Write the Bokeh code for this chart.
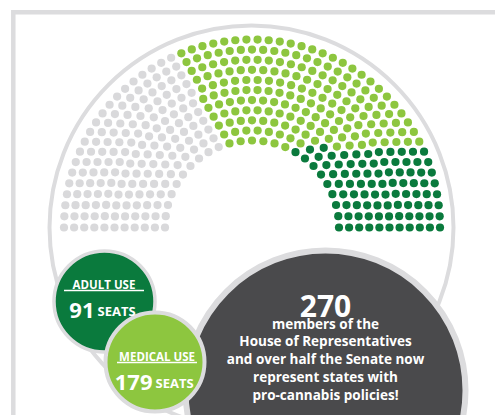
import numpy as np
from bokeh.plotting import figure
from bokeh.models import Range1d
from bokeh.core.properties import value
from bokeh.embed import file_html
from bokeh.resources import INLINE

# ---- data ----
seat_groups = ["Other states", "Medical use", "Adult use"]
seat_counts = [165, 179, 91]
seat_colors = ["#d9d9db", "#8dc63f", "#0a7a3d"]
badge_titles = ["ADULT USE", "MEDICAL USE"]
badge_seats = [91, 179]
message_lines = ["members of the", "House of Representatives",
                 "and over half the Senate now", "represent states with",
                 "pro-cannabis policies!"]

FONT = value("Open Sans")
RING = "#dcdcde"

p = figure(width=495, height=415, x_range=Range1d(0, 495), y_range=Range1d(415, 0),
           output_backend="svg", toolbar_location=None, min_border=0,
           x_axis_type=None, y_axis_type=None)
p.grid.visible = False
p.outline_line_color = None
p.background_fill_color = "white"

# frame
p.line(x=[12.8, 12.8, 520], y=[430, 11.7, 11.7], line_width=4.5, line_color=RING,
       line_join="miter")

# parliament outline ring
cx, cy = 251.5, 227.0
p.circle(x=[cx - 0.5], y=[cy], radius=202, fill_color=None, line_color=RING, line_width=4)

# ---- parliament layout ----
total = sum(seat_counts)
n_rows = 11
r_in, r_out = 87.0, 188.0
radii = np.linspace(r_in, r_out, n_rows)
raw = total * radii / radii.sum()
counts = np.floor(raw).astype(int)
rem = total - counts.sum()
for i in np.argsort(-(raw - counts))[:rem]:
    counts[i] += 1

seats = []  # (row, j, angle, x, y)
for k, (r, n) in enumerate(zip(radii, counts)):
    for j in range(n):
        a = np.pi * j / (n - 1)
        seats.append((k, j, a, cx + r * np.cos(a), cy - r * np.sin(a)))

n_other, n_med, n_adult = seat_counts
order_adult = sorted(range(len(seats)), key=lambda i: (seats[i][1], seats[i][0]))
adult_idx = set(order_adult[:n_adult])
rest = sorted([i for i in range(len(seats)) if i not in adult_idx], key=lambda i: seats[i][2])
med_idx = set(rest[:n_med])

colors = []
for i in range(len(seats)):
    if i in adult_idx:
        colors.append(seat_colors[2])
    elif i in med_idx:
        colors.append(seat_colors[1])
    else:
        colors.append(seat_colors[0])

p.scatter(x=[s[3] for s in seats], y=[s[4] for s in seats], size=8.2,
          marker="circle", fill_color=colors, line_color=None)

# ---- big dark circle ----
p.circle(x=[325], y=[390], radius=140, fill_color="#4a4a4c", line_color=RING, line_width=6)

# ---- badges ----
p.circle(x=[104], y=[301], radius=50.5, fill_color=seat_colors[2], line_color=RING, line_width=3.5)
p.circle(x=[154.5], y=[361.5], radius=49.5, fill_color=seat_colors[1], line_color=RING, line_width=4)

def badge(xc, ybase, title, n, x_split):
    p.text(x=[xc], y=[ybase], text=[title], text_font=FONT, text_font_style="bold",
           text_font_size="11.5px", text_color="white", text_align="center",
           text_baseline="alphabetic")
    p.segment(x0=[xc - 40], y0=[ybase + 6], x1=[xc + 40], y1=[ybase + 6],
              line_color="white", line_width=1.3)
    p.text(x=[x_split], y=[ybase + 26], text=[str(n)], text_font=FONT, text_font_style="bold",
           text_font_size="22px", text_color="white", text_align="right",
           text_baseline="alphabetic")
    p.text(x=[x_split + 3], y=[ybase + 26], text=["SEATS"], text_font=FONT,
           text_font_style="bold", text_font_size="13px", text_color="white",
           text_align="left", text_baseline="alphabetic")

badge(103.5, 284, badge_titles[0], badge_seats[0], 94)
badge(156.5, 356, badge_titles[1], badge_seats[1], 152)

# ---- message ----
p.text(x=[325], y=[305], text=[str(n_med + n_adult)], text_font=FONT, text_font_style="bold",
       text_font_size="30px", text_color="white", text_align="center",
       text_baseline="alphabetic")
p.text(x=[325] * len(message_lines), y=[323 + 17.8 * i for i in range(len(message_lines))],
       text=message_lines, text_font=FONT, text_font_style="bold",
       text_font_size="13.5px", text_color="white", text_align="center",
       text_baseline="alphabetic")

open("out.html", "w").write(file_html(p, INLINE))
